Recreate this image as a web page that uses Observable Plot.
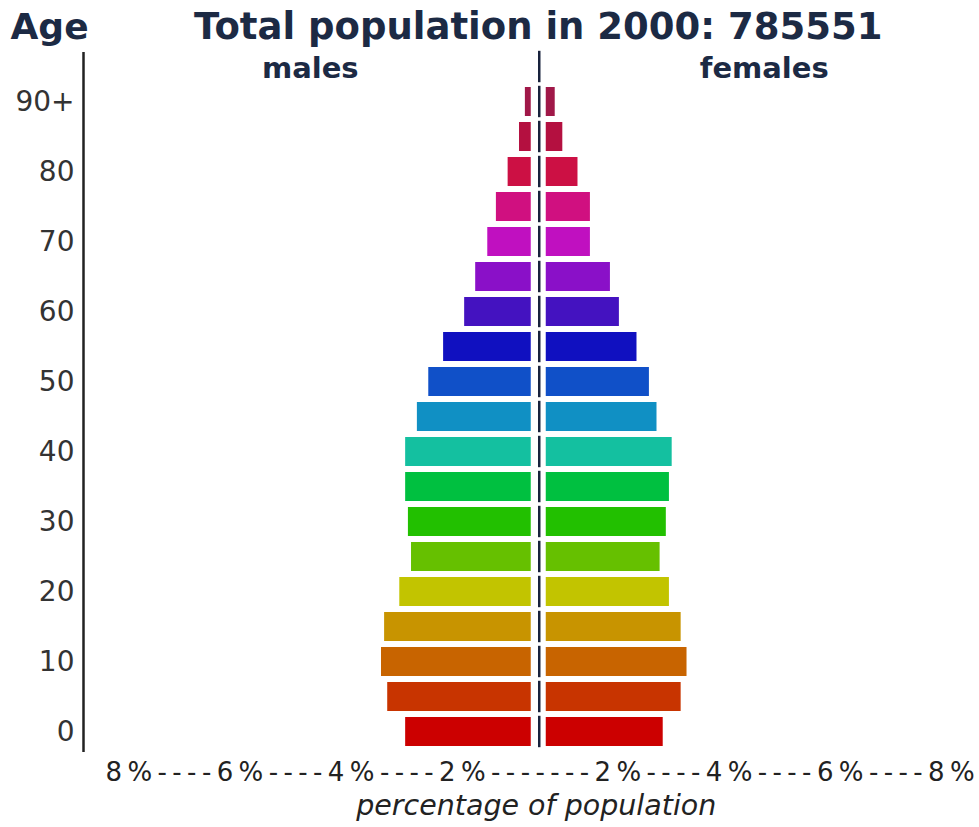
<!DOCTYPE html>
<html>
<head>
<meta charset="utf-8">
<script src="https://cdn.jsdelivr.net/npm/d3@7"></script>
<script src="https://cdn.jsdelivr.net/npm/@observablehq/plot@0.6"></script>
<style>
  html, body { margin: 0; padding: 0; background: #ffffff; }
</style>
</head>
<body>
<div id="chart"></div>
<script>
// ---- data (percent of total population, per 5-year age group) ----
const ages = ["0-4","5-9","10-14","15-19","20-24","25-29","30-34","35-39","40-44","45-49",
              "50-54","55-59","60-64","65-69","70-74","75-79","80-84","85-89","90+"];
const male   = [3.64, 4.16, 4.34, 4.25, 3.81, 3.47, 3.56, 3.64, 3.64, 3.30,
                2.97, 2.54, 1.93, 1.61, 1.26, 1.01, 0.67, 0.34, 0.17];
const female = [3.39, 3.91, 4.08, 3.91, 3.57, 3.30, 3.48, 3.57, 3.65, 3.21,
                2.99, 2.63, 2.12, 1.86, 1.28, 1.28, 0.92, 0.48, 0.26];
const ageColors = ["#cc0000","#c83400","#c86400","#c89400","#c2c400","#66c000","#22c000",
                   "#00c040","#14c0a0","#1090c4","#1050c8","#1010c0","#4412c0","#8a10c8",
                   "#c010c0","#d01080","#cc1044","#b41040","#a01848"];
const yTickLabels = ["0","","10","","20","","30","","40","","50","","60","","70","","80","","90+"];
const xTickLabels = ["8%","6%","4%","2%","2%","4%","6%","8%"];
const titleText = "Total population in 2000: 785551";
const ageTitle = "Age";
const sideLabels = ["males", "females"];
const xAxisTitle = "percentage of population";

// ---- derived tables ----
const rows = ages.map((age, i) => ({age, male: male[i], female: female[i], color: ageColors[i]}));
const topSpacer = " ";
const yDomain = [topSpacer, ...ages.slice().reverse()];
const tickLabelOf = new Map(ages.map((a, i) => [a, yTickLabels[i]]));
const xTickString = xTickLabels.slice(0, 4).join("----") + "-------" + xTickLabels.slice(4).join("----");

const ink = "#1c2a44";
const xDomain = [-13.18, 12.76];

const chart = Plot.plot({
  width: 979,
  height: 827,
  marginLeft: 84,
  marginRight: 0,
  marginTop: 52,
  marginBottom: 75,
  style: {fontFamily: "DejaVu Sans", background: "#ffffff", overflow: "visible"},
  x: {domain: xDomain, axis: null},
  y: {domain: yDomain, range: [47.2, 751.2], paddingInner: 0.17, paddingOuter: 0.085, axis: null},
  color: {type: "identity"},
  marks: [
    // left axis line
    Plot.ruleX([xDomain[0]], {stroke: "#222", strokeWidth: 2.5, dx: -1}),
    Plot.axisY({
      tickSize: 0, tickPadding: 10, fontSize: 28, color: "#333", label: null,
      tickFormat: d => tickLabelOf.get(d) ?? ""
    }),
    // bars
    Plot.barX(rows, {y: "age", x1: 0, x2: d => -d.male, fill: "color", dx: -8}),
    Plot.barX(rows, {y: "age", x1: 0, x2: d => d.female, fill: "color", dx: 7}),
    // centre line, broken between rows
    Plot.tickX(yDomain, {x: () => 0, y: d => d, stroke: "#18223c", strokeWidth: 2.5,
      insetTop: -1.2, insetBottom: -1.2}),
    // titles
    Plot.text([ageTitle], {frameAnchor: "top-left", text: d => d, textAnchor: "start", lineAnchor: "bottom",
      dx: -74, dy: -14, fontSize: 36, fontWeight: "bold", fill: ink}),
    Plot.text([titleText], {x: 0, frameAnchor: "top", text: d => d, lineAnchor: "bottom",
      dx: -1, dy: -14, fontSize: 37, fontWeight: "bold", fill: ink}),
    Plot.text([sideLabels[0]], {x: 0, frameAnchor: "top", text: d => d, lineAnchor: "bottom",
      dx: -229, dy: 25, fontSize: 29, fontWeight: "bold", fill: ink}),
    Plot.text([sideLabels[1]], {x: 0, frameAnchor: "top", text: d => d, lineAnchor: "bottom",
      dx: 225, dy: 25, fontSize: 29, fontWeight: "bold", fill: ink}),
    // bottom scale string and axis title
    Plot.text([xTickString], {frameAnchor: "bottom-left", text: d => d, textAnchor: "start", lineAnchor: "bottom",
      dx: 21, dy: 28, fontSize: 26, fill: "#222"}),
    Plot.text([xAxisTitle], {x: 0, frameAnchor: "bottom", text: d => d, lineAnchor: "bottom",
      dx: -3, dy: 62, fontSize: 28.5, fontStyle: "italic", fill: "#222"})
  ]
});

d3.select(chart).selectAll("text")
  .filter(function() { return this.textContent.includes("----"); })
  .style("letter-spacing", "5.4px");

document.getElementById("chart").appendChild(chart);
</script>
</body>
</html>
